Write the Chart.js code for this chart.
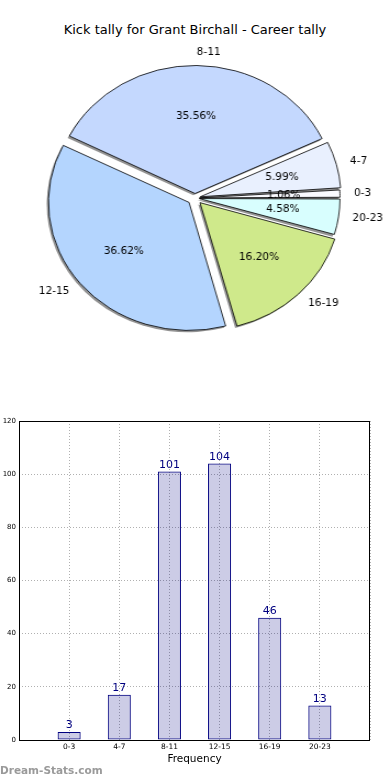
<!DOCTYPE html>
<html lang="en">
<head>
<meta charset="UTF-8">
<title>Kick tally for Grant Birchall</title>
<script src="https://cdn.jsdelivr.net/npm/chart.js"></script>
<style>
    body { margin: 0; background: #fff; font-family: "DejaVu Sans", sans-serif; }
    #page { position: relative; width: 390px; height: 780px; overflow: hidden; }
    #title { position: absolute; left: 0; width: 390px; top: 22px; text-align: center; font-size: 13px; line-height: 16px; color: #000; }
    #pieChart { position: absolute; left: 0; top: 0; transform: scaleX(1.0986); transform-origin: 0 0; }
    #barChart { position: absolute; left: 0; top: 410px; }
    #mark { position: absolute; left: 0; top: 764px; font-size: 10.5px; font-weight: bold; color: #9a9a9a; }
</style>
</head>
<body>
<div id="page">
    <div id="title">Kick tally for Grant Birchall - Career tally</div>
    <canvas id="pieChart" width="355" height="400"></canvas>
    <canvas id="barChart" width="390" height="370"></canvas>
    <div id="mark">Dream-Stats.com</div>
</div>

<script>
    // data
    const categories = ['0-3', '4-7', '8-11', '12-15', '16-19', '20-23'];
    const counts = [3, 17, 101, 104, 46, 13];
    const yTicks = [0, 20, 40, 60, 80, 100, 120];

    // styling per slice
    const sliceColors = ['#fafaff', '#e9f0fe', '#c4d8fe', '#b4d5fe', '#cfe98b', '#d8fefe'];
    const sliceExplode = [16, 20, 18, 28, 26, 16];

    const total = counts.reduce((a, b) => a + b, 0);
    const stretch = 1.0986;   // matplotlib pie is an ellipse here
    const pieRadius = 128;

    // matplotlib goes counter-clockwise from 3 o'clock, chart.js clockwise -> reverse
    const rev = arr => arr.slice().reverse();

    function arcCentre(arc) {
        const mid = (arc.startAngle + arc.endAngle) / 2;
        const off = (arc.options.offset || 0) / 4;
        return { mid: mid, cx: arc.x + Math.cos(mid) * off, cy: arc.y + Math.sin(mid) * off, off: off };
    }

    const pieExtras = {
        id: 'pieExtras',
        beforeDatasetsDraw(chart) {
            const ctx = chart.ctx;
            const arcs = chart.getDatasetMeta(0).data;
            // undo chart.js radius growth on offset slices
            arcs.forEach(arc => {
                const circ = arc.endAngle - arc.startAngle;
                const fix = 1 - Math.sin(Math.min(Math.PI, circ));
                arc.outerRadius = pieRadius - ((arc.options.offset || 0) / 4) * fix;
            });
            // shadow
            ctx.save();
            ctx.fillStyle = '#939393';
            arcs.forEach(arc => {
                const c = arcCentre(arc);
                const x = c.cx - 1.6, y = c.cy + 1.8;
                ctx.beginPath();
                ctx.moveTo(x, y);
                ctx.arc(x, y, pieRadius, arc.startAngle, arc.endAngle);
                ctx.closePath();
                ctx.fill();
            });
            ctx.restore();
        },
        afterDatasetsDraw(chart) {
            const ctx = chart.ctx;
            const arcs = chart.getDatasetMeta(0).data;
            const vals = chart.data.datasets[0].data;
            const labs = chart.data.labels;
            ctx.save();
            ctx.fillStyle = '#000';
            ctx.font = '10.5px "DejaVu Sans"';
            ctx.textBaseline = 'middle';
            arcs.forEach((arc, i) => {
                const c = arcCentre(arc);
                const put = (txt, dist, align) => {
                    ctx.save();
                    ctx.translate(c.cx + Math.cos(c.mid) * pieRadius * dist, c.cy + Math.sin(c.mid) * pieRadius * dist);
                    ctx.scale(1 / stretch, 1);
                    ctx.textAlign = align;
                    ctx.fillText(txt, 0, 0);
                    ctx.restore();
                };
                put((vals[i] / total * 100).toFixed(2) + '%', 0.6, 'center');
                put(labs[i], 1.1, Math.cos(c.mid) > 0 ? 'left' : 'right');
            });
            ctx.restore();
        }
    };

    new Chart(document.getElementById('pieChart'), {
        type: 'pie',
        data: {
            labels: rev(categories),
            datasets: [{
                data: rev(counts),
                backgroundColor: rev(sliceColors),
                borderColor: '#000',
                borderWidth: 0.8,
                offset: rev(sliceExplode),
                radius: pieRadius
            }]
        },
        options: {
            responsive: false,
            animation: false,
            devicePixelRatio: 1,
            rotation: 90,
            radius: pieRadius,
            layout: { padding: { top: 61, bottom: 65, left: 0, right: 0 } },
            plugins: { legend: { display: false }, tooltip: { enabled: false } }
        },
        plugins: [pieExtras]
    });

    // bar chart
    const frame = {
        id: 'frame',
        afterDatasetsDraw(chart) {
            const a = chart.chartArea;
            const ctx = chart.ctx;
            ctx.save();
            ctx.strokeStyle = '#000';
            ctx.lineWidth = 1;
            ctx.strokeRect(Math.round(a.left) + 0.5, Math.round(a.top) + 0.5,
                Math.round(a.right - a.left) - 1, Math.round(a.bottom - a.top));
            ctx.restore();
        }
    };

    const barValues = {
        id: 'barValues',
        afterDatasetsDraw(chart) {
            const ctx = chart.ctx;
            const meta = chart.getDatasetMeta(0);
            const vals = chart.data.datasets[0].data;
            ctx.save();
            ctx.fillStyle = '#000080';
            ctx.font = '11px "DejaVu Sans"';
            ctx.textAlign = 'center';
            ctx.textBaseline = 'bottom';
            meta.data.forEach((bar, i) => {
                if (vals[i] == null) return;
                ctx.fillText(String(vals[i]), bar.x, bar.y - 1);
            });
            ctx.restore();
        }
    };

    new Chart(document.getElementById('barChart'), {
        type: 'bar',
        data: {
            labels: [''].concat(categories, ['']),
            datasets: [{
                data: [null].concat(counts, [null]),
                backgroundColor: 'rgba(0, 0, 128, 0.2)',
                borderColor: '#000080',
                borderWidth: 1,
                borderSkipped: false,
                categoryPercentage: 1,
                barPercentage: 0.46
            }]
        },
        options: {
            responsive: false,
            animation: false,
            devicePixelRatio: 1,
            layout: { padding: { top: 11, right: 20, left: 0, bottom: 13 } },
            plugins: { legend: { display: false }, tooltip: { enabled: false } },
            scales: {
                x: {
                    offset: false,
                    grid: { offset: false, color: '#b0b0b0', drawTicks: false },
                    border: { display: false, dash: [1, 2] },
                    ticks: { font: { size: 7.5, family: 'DejaVu Sans' }, color: '#000', padding: 3, maxRotation: 0, autoSkip: false },
                    title: { display: true, text: 'Frequency', color: '#000', font: { size: 10.5, family: 'DejaVu Sans' }, padding: { top: 0, bottom: 1 } },
                    afterFit(s) { s.height = 27; }
                },
                y: {
                    min: yTicks[0],
                    max: yTicks[yTicks.length - 1],
                    afterBuildTicks(s) { s.ticks = yTicks.map(v => ({ value: v })); },
                    grid: { color: '#b0b0b0', drawTicks: false },
                    border: { display: false, dash: [1, 2] },
                    ticks: { font: { size: 7, family: 'DejaVu Sans' }, color: '#000', padding: 3 },
                    afterFit(s) { s.width = 19; }
                }
            }
        },
        plugins: [frame, barValues]
    });
</script>
</body>
</html>
